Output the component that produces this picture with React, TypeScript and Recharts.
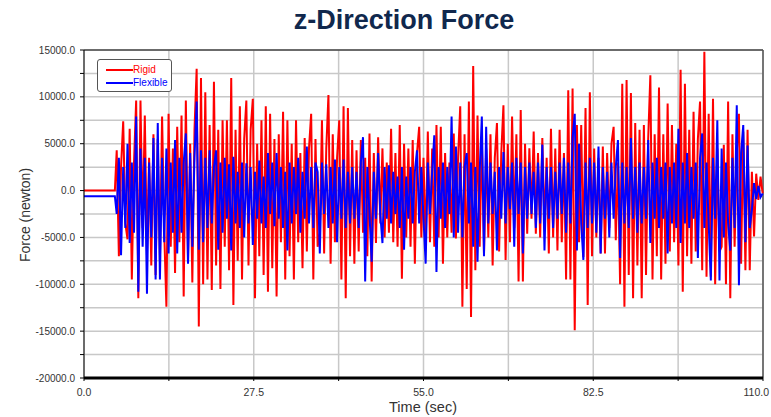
import React from 'react';
import { LineChart, Line, XAxis, YAxis, CartesianGrid, ReferenceLine, Legend } from 'recharts';

// Sampling of the recorded signal (seconds)
const SAMPLE_START = 5.3;
const SAMPLE_STEP = 0.35;

// Before the excitation starts both forces are constant
const PRE_TIMES = [0, 5.0];
const PRE_RIGID = [0, 0];
const PRE_FLEXIBLE = [-600, -600];

// z-Direction force, Rigid model (newton)
const RIGID = [
  4300, -7000, 2500, 7400, -3500, -5200, 6600, -9500, 3000, 9600,
  -11500, 9600, -4000, 8000, -6500, 3500, -8000, 6000, -9000, 5500,
  -7500, 7900, -4500, -12400, 8200, -6000, 4500, -8800, 6800, -5500,
  8000, -11300, 9600, -7500, 5000, -9800, 6500, 13000, -14500, 12000,
  -10000, 10500, -9500, 7000, -10600, 11600, -8000, 6500, -10500, 7500,
  -6000, 7500, -8500, 12000, -12200, 6500, -7500, 9000, -9500, 5500,
  9600, -8000, 6500, 9800, -11500, 5000, -7000, 7500, -9000, 9000,
  -10800, 8200, -8300, 5500, -11300, 6000, -5500, 8400, -9500, 7500,
  -7000, 5000, -9500, 7500, -5500, 4000, -8300, 5600, -6500, 4500,
  8200, -9500, 5500, -6000, -4500, 7500, -6700, 4500, 10200, -7800,
  6000, -5500, 3500, 7500, -9500, 9000, -11500, 8800, -7000, 5400,
  -7800, 4300, -6500, 5400, -4500, 3500, -7000, 6100, -9700, 4000,
  -5600, 5700, -3500, 4500, -5000, 3000, -4500, 6600, -5500, 4000,
  -6000, 7000, -9400, 5000, -5000, 4500, -6000, 5400, -7800, 4000,
  6800, -5000, 3500, -6000, 6300, -5500, 4500, -6000, 7000, -5000,
  6800, -7800, 4000, -5000, 3000, -4500, 6100, -5100, 3500, 9000,
  -12400, 6000, -10500, 9500, -13500, 13300, -8500, 8000, -6000, 5500,
  -6700, 4500, -5000, 6000, -8000, 3500, 7200, -6500, 4000, 9100,
  -7400, 5000, -5500, 7900, -4000, 6000, -9700, 8600, -9700, 5000,
  -4600, 4500, -3000, 6300, -4600, 4000, -5000, 5600, -4000, 3500,
  -6700, 6600, -5000, 4500, -6400, 6500, -5500, 4000, -9500, 10700,
  -9500, 10900, -14900, 7000, -5500, 7000, -7100, 8800, -12200, 10500,
  -7000, 4500, -5000, 3500, -6700, 4700, -6700, 4000, -4000, 5000,
  6800, -5300, 3000, -10000, 11400, -12400, 11800, -9000, 10400, -11500,
  7200, -8000, 6500, -11500, 7000, -9000, 5500, 12300, -9500, 6000,
  -7000, 11000, -9500, 6000, -7800, 9300, -6500, 7000, -5500, 5000,
  -8000, 12900, -10800, 11400, -7000, 6500, -7800, 8400, -6500, 5500,
  9500, -8500, 14800, -9200, 8200, -9200, 9800, -10000, 4500, -6500,
  -6000, 4900, -10000, 9500, -11500, 6000, -6000, 4000, 8200, -7800,
  6300, -8500, 6500, -8500, 2000, -4900, 1800, -1000, 1500, -300,
];

// z-Direction force, Flexible model (newton)
const FLEXIBLE = [
  -2500, 3500, -6900, 2500, -4000, 5000, -5600, 3000, -4500, 7900,
  -10800, 4500, -6000, 3500, -11000, 3000, -5000, 5600, -9500, 7200,
  -9500, 3500, -5500, 4500, -6700, 3000, -4500, 5400, -6700, 3500,
  -4500, 3000, 6100, -7800, 4000, -6000, 3500, 9500, -6300, 4300,
  -5500, 3500, -4000, 4300, -3500, 2500, 4300, -6300, 3000, -4500,
  3500, -3000, 2800, -6400, 3600, -3500, 2000, -4000, 3000, -5000,
  2900, -3500, 2500, -5800, 2000, -3000, 3200, -3500, 1500, -4000,
  4000, -2500, 3000, -3800, 4000, -3000, 2500, -4000, 2000, -6400,
  3000, -3500, 2500, -2500, 3500, -4500, 2000, -3000, 4700, -3500,
  2500, -4000, 3000, 2000, -6700, 3000, -2500, 2800, -4000, 2500,
  -3500, 3300, -5500, 2500, -3000, 3300, -4000, 2000, -3500, 2500,
  -3000, 2000, -4000, 3000, 5700, -9700, 2500, -2500, -7600, 2000,
  -3000, 4000, -2500, -5600, 2500, -3000, 2700, -3500, 2000, -2500,
  1500, -4000, 2500, -6300, 1500, -3000, 2500, -3500, 2000, 4300,
  -3500, 2500, -3000, -7800, 3000, -2500, 2000, 5900, -8700, 2500,
  -3000, 3000, -4000, 2500, -2500, 7900, -5000, 4700, -4500, 3000,
  -5000, 2500, 4000, -3500, 3000, -6000, 2500, -7600, 2000, 7900,
  -7000, 6800, -3500, 3000, -2500, 2000, -6400, 2500, -3000, 4100,
  -3500, 2500, -2000, 3000, -6000, 3500, -2500, 3000, -6700, 2500,
  -3000, 3000, -2500, 2000, -4000, 3000, -3500, 4900, -6400, 2500,
  -3000, 2500, -4000, 2000, -3000, 3000, -2500, 3500, -4500, 3000,
  -3500, 5600, 8200, -6400, 5000, -3500, -7400, 3000, -4000, 3500,
  -3500, 3000, -4500, 4700, -6700, 2500, -3000, 2000, -5000, 3000,
  -3000, 2500, 5400, -7200, 3000, -3500, 2500, -4000, 5600, -3000,
  2500, -4500, 3000, -3500, 2500, -3000, 5400, -5600, 3000, -3000,
  3500, -4000, 2500, -3000, 3000, -6700, 2500, -3500, 3000, -4000,
  6600, -5600, 3000, -3500, 4000, -4000, 2500, -3000, 3000, -7200,
  3500, 6100, -4000, 3000, -3500, -9600, 3500, -3000, 7500, -9600,
  4500, -5000, 3000, -3500, -6400, 3500, -4000, 9100, -10100, 4000,
  7000, -5500, 4800, -4000, -2100, 800, -900, 500, -700, -300,
];

const SERIES_NAMES = ['Rigid', 'Flexible'];
const SERIES_COLORS = ['#ff0000', '#0000ff'];

const X_TICKS = [0, 13.75, 27.5, 41.25, 55, 68.75, 82.5, 96.25, 110];
const X_LABELED = [0, 27.5, 55, 82.5, 110];
const Y_TICKS = [
  -20000, -17500, -15000, -12500, -10000, -7500, -5000, -2500, 0,
  2500, 5000, 7500, 10000, 12500, 15000,
];

const TITLE = 'z-Direction Force';
const X_LABEL = 'Time (sec)';
const Y_LABEL = 'Force (newton)';

const FONT = '"Liberation Sans", Arial, Helvetica, sans-serif';

const data = [
  ...PRE_TIMES.map((t, i) => ({ t, rigid: PRE_RIGID[i], flexible: PRE_FLEXIBLE[i] })),
  ...RIGID.map((r, i) => ({
    t: +(SAMPLE_START + SAMPLE_STEP * i).toFixed(3),
    rigid: r,
    flexible: FLEXIBLE[i],
  })),
];

const XTick = (props: any) => {
  const { x, y, payload } = props;
  const v = payload.value as number;
  if (!X_LABELED.includes(v)) return null;
  const last = v === X_LABELED[X_LABELED.length - 1];
  return (
    <text
      x={last ? x + 6 : x}
      y={y}
      dy="0.71em"
      textAnchor={last ? 'end' : 'middle'}
      fill="#333"
      fontSize={10.5}
      fontFamily={FONT}
    >
      {v.toFixed(1)}
    </text>
  );
};

const renderLegend = () => (
  <div
    style={{
      width: 73,
      height: 31,
      border: '1px solid #555',
      borderRadius: 3,
      background: '#fff',
      fontFamily: FONT,
      fontSize: 10,
      boxSizing: 'content-box',
      position: 'relative',
    }}
  >
    {SERIES_NAMES.map((name, i) => (
      <div
        key={name}
        style={{
          position: 'absolute',
          left: 8,
          top: i === 0 ? 4 : 17,
          height: 12,
          display: 'flex',
          alignItems: 'center',
          whiteSpace: 'nowrap',
        }}
      >
        <span style={{ display: 'inline-block', width: 27, height: 2, background: SERIES_COLORS[i] }} />
        <span style={{ color: SERIES_COLORS[i], marginLeft: 0, lineHeight: '12px' }}>{name}</span>
      </div>
    ))}
  </div>
);

export default function App() {
  return (
    <div style={{ position: 'absolute', left: 0, top: 0, width: 771, height: 417, background: '#fff', fontFamily: FONT }}>
      <div
        style={{
          position: 'absolute',
          left: 0,
          width: 808,
          top: 4,
          textAlign: 'center',
          fontSize: 27,
          fontWeight: 'bold',
          color: '#10284d',
          lineHeight: '32px',
        }}
      >
        {TITLE}
      </div>
      <LineChart
        width={771}
        height={417}
        data={data}
        margin={{ top: 50, right: 8, bottom: 19, left: 0 }}
      >
        <CartesianGrid stroke="#c8c8c8" strokeWidth={1.5} />
        <XAxis
          type="number"
          dataKey="t"
          domain={[0, 110]}
          ticks={X_TICKS}
          interval={0}
          height={20}
          tickSize={3}
          tickMargin={8}
          tick={<XTick />}
          tickLine={{ stroke: '#000' }}
          axisLine={{ stroke: '#000', strokeWidth: 3 }}
        />
        <YAxis
          type="number"
          domain={[-20000, 15000]}
          ticks={Y_TICKS}
          interval={0}
          width={84}
          tickSize={4}
          tickMargin={5}
          tickFormatter={(v: number) => (v % 5000 === 0 ? v.toFixed(1) : '')}
          tick={{ fill: '#333', fontSize: 10, fontFamily: FONT }}
          tickLine={{ stroke: '#000' }}
          axisLine={{ stroke: '#000' }}
        />
        <ReferenceLine y={15000} stroke="#000" strokeWidth={1} />
        <ReferenceLine x={110} stroke="#555" strokeWidth={1.5} />
        <Line
          type="linear"
          dataKey="rigid"
          name={SERIES_NAMES[0]}
          stroke={SERIES_COLORS[0]}
          strokeWidth={2}
          dot={false}
          activeDot={false}
          isAnimationActive={false}
        />
        <Line
          type="linear"
          dataKey="flexible"
          name={SERIES_NAMES[1]}
          stroke={SERIES_COLORS[1]}
          strokeWidth={2}
          dot={false}
          activeDot={false}
          isAnimationActive={false}
        />
        <Legend
          layout="vertical"
          align="center"
          verticalAlign="middle"
          content={renderLegend}
          wrapperStyle={{ position: 'absolute', left: 97, top: 59, width: 75, height: 33 }}
        />
      </LineChart>
      <div
        style={{
          position: 'absolute',
          left: 25,
          top: 215,
          transform: 'translate(-50%, -50%) rotate(-90deg)',
          fontSize: 14,
          color: '#333',
          whiteSpace: 'nowrap',
        }}
      >
        {Y_LABEL}
      </div>
      <div
        style={{
          position: 'absolute',
          left: 423,
          top: 407,
          transform: 'translate(-50%, -50%)',
          fontSize: 14.5,
          color: '#333',
          whiteSpace: 'nowrap',
        }}
      >
        {X_LABEL}
      </div>
    </div>
  );
}
